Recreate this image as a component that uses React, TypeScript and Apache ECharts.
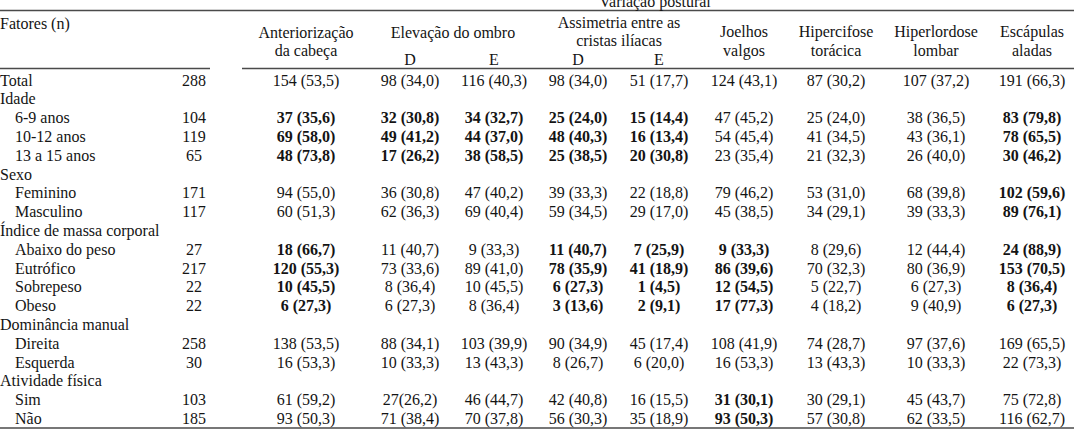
import React, { useEffect, useRef } from "react";
import * as echarts from "echarts";

// ---------- data ----------
const rowLabels = [
  "Total", "Idade", "6-9 anos", "10-12 anos", "13 a 15 anos",
  "Sexo", "Feminino", "Masculino",
  "Índice de massa corporal", "Abaixo do peso", "Eutrófico", "Sobrepeso", "Obeso",
  "Dominância manual", "Direita", "Esquerda",
  "Atividade física", "Sim", "Não",
];
const rowIndented = [
  false, false, true, true, true,
  false, true, true,
  false, true, true, true, true,
  false, true, true,
  false, true, true,
];
const nValues = ["288", null, "104", "119", "65", null, "171", "117", null, "27", "217", "22", "22", null, "258", "30", null, "103", "185"];
const anteriorizacao = ["154 (53,5)", null, "37 (35,6)", "69 (58,0)", "48 (73,8)", null, "94 (55,0)", "60 (51,3)", null, "18 (66,7)", "120 (55,3)", "10 (45,5)", "6 (27,3)", null, "138 (53,5)", "16 (53,3)", null, "61 (59,2)", "93 (50,3)"];
const elevacaoD = ["98 (34,0)", null, "32 (30,8)", "49 (41,2)", "17 (26,2)", null, "36 (30,8)", "62 (36,3)", null, "11 (40,7)", "73 (33,6)", "8 (36,4)", "6 (27,3)", null, "88 (34,1)", "10 (33,3)", null, "27(26,2)", "71 (38,4)"];
const elevacaoE = ["116 (40,3)", null, "34 (32,7)", "44 (37,0)", "38 (58,5)", null, "47 (40,2)", "69 (40,4)", null, "9 (33,3)", "89 (41,0)", "10 (45,5)", "8 (36,4)", null, "103 (39,9)", "13 (43,3)", null, "46 (44,7)", "70 (37,8)"];
const assimetriaD = ["98 (34,0)", null, "25 (24,0)", "48 (40,3)", "25 (38,5)", null, "39 (33,3)", "59 (34,5)", null, "11 (40,7)", "78 (35,9)", "6 (27,3)", "3 (13,6)", null, "90 (34,9)", "8 (26,7)", null, "42 (40,8)", "56 (30,3)"];
const assimetriaE = ["51 (17,7)", null, "15 (14,4)", "16 (13,4)", "20 (30,8)", null, "22 (18,8)", "29 (17,0)", null, "7 (25,9)", "41 (18,9)", "1 (4,5)", "2 (9,1)", null, "45 (17,4)", "6 (20,0)", null, "16 (15,5)", "35 (18,9)"];
const joelhosValgos = ["124 (43,1)", null, "47 (45,2)", "54 (45,4)", "23 (35,4)", null, "79 (46,2)", "45 (38,5)", null, "9 (33,3)", "86 (39,6)", "12 (54,5)", "17 (77,3)", null, "108 (41,9)", "16 (53,3)", null, "31 (30,1)", "93 (50,3)"];
const hipercifose = ["87 (30,2)", null, "25 (24,0)", "41 (34,5)", "21 (32,3)", null, "53 (31,0)", "34 (29,1)", null, "8 (29,6)", "70 (32,3)", "5 (22,7)", "4 (18,2)", null, "74 (28,7)", "13 (43,3)", null, "30 (29,1)", "57 (30,8)"];
const hiperlordose = ["107 (37,2)", null, "38 (36,5)", "43 (36,1)", "26 (40,0)", null, "68 (39,8)", "39 (33,3)", null, "12 (44,4)", "80 (36,9)", "6 (27,3)", "9 (40,9)", null, "97 (37,6)", "10 (33,3)", null, "45 (43,7)", "62 (33,5)"];
const escapulas = ["191 (66,3)", null, "83 (79,8)", "78 (65,5)", "30 (46,2)", null, "102 (59,6)", "89 (76,1)", null, "24 (88,9)", "153 (70,5)", "8 (36,4)", "6 (27,3)", null, "169 (65,5)", "22 (73,3)", null, "75 (72,8)", "116 (62,7)"];

// rows printed in bold (significant), per column
const boldAnteriorizacao = [2, 3, 4, 9, 10, 11, 12];
const boldElevacaoD = [2, 3, 4];
const boldElevacaoE = [2, 3, 4];
const boldAssimetriaD = [2, 3, 4, 9, 10, 11, 12];
const boldAssimetriaE = [2, 3, 4, 9, 10, 11, 12];
const boldJoelhos = [9, 10, 11, 12, 17, 18];
const boldHipercifose: number[] = [];
const boldHiperlordose: number[] = [];
const boldEscapulas = [2, 3, 4, 6, 7, 9, 10, 11, 12];

// ---------- layout ----------
const W = 1074;
const H = 433;
const COL_X = [0, 194, 306, 410, 494, 578, 659, 744, 836, 936, 1032];
const INDENT = 15;
const FONT = "'Liberation Serif', 'Times New Roman', serif";
const FS = 16;
const TXT = "#141414";
const LINE = "#4a4a4a";

const valueColumns = [
  { values: nValues, bold: [] as number[] },
  { values: anteriorizacao, bold: boldAnteriorizacao },
  { values: elevacaoD, bold: boldElevacaoD },
  { values: elevacaoE, bold: boldElevacaoE },
  { values: assimetriaD, bold: boldAssimetriaD },
  { values: assimetriaE, bold: boldAssimetriaE },
  { values: joelhosValgos, bold: boldJoelhos },
  { values: hipercifose, bold: boldHipercifose },
  { values: hiperlordose, bold: boldHiperlordose },
  { values: escapulas, bold: boldEscapulas },
];

type Cell = { col: number; row: number; text: string; bold: boolean };

function buildCells(): Cell[] {
  const cells: Cell[] = [];
  rowLabels.forEach((t, r) => cells.push({ col: 0, row: r, text: t, bold: false }));
  valueColumns.forEach((c, ci) => {
    c.values.forEach((v, r) => {
      if (v != null) cells.push({ col: ci + 1, row: r, text: v, bold: c.bold.indexOf(r) >= 0 });
    });
  });
  return cells;
}

function headerText(text: string, x: number, y: number, align = "center") {
  return {
    type: "text",
    x,
    y,
    silent: true,
    style: {
      text,
      fill: TXT,
      fontFamily: FONT,
      fontSize: FS,
      align,
      verticalAlign: "middle",
    },
  };
}

function hLine(x1: number, x2: number, y: number) {
  return {
    type: "line",
    silent: true,
    shape: { x1, y1: y, x2, y2: y },
    style: { stroke: LINE, lineWidth: 1.6 },
  };
}

export default function App() {
  const ref = useRef<HTMLDivElement>(null);

  useEffect(() => {
    document.body.style.margin = "0";
    if (!ref.current) return;
    const chart = echarts.init(ref.current, undefined, { renderer: "svg" });
    const cells = buildCells();

    const option: any = {
      animation: false,
      backgroundColor: "#ffffff",
      grid: { left: 0, right: 0, top: 70.6, bottom: 5.2, containLabel: false },
      xAxis: { type: "value", min: 0, max: W, show: false },
      yAxis: {
        type: "category",
        data: rowLabels,
        inverse: true,
        show: false,
        boundaryGap: true,
      },
      series: [
        {
          type: "custom",
          coordinateSystem: "cartesian2d",
          clip: false,
          data: cells.map((c) => [COL_X[c.col], c.row]),
          renderItem: (params: any, api: any) => {
            const c = cells[params.dataIndex];
            const p = api.coord([api.value(0), api.value(1)]);
            let x = p[0];
            let align = "center";
            if (c.col === 0) {
              align = "left";
              x = p[0] + (rowIndented[c.row] ? INDENT : 0);
            }
            return {
              type: "text",
              x,
              y: p[1],
              style: {
                text: c.text,
                fill: TXT,
                fontFamily: FONT,
                fontSize: FS,
                fontWeight: c.bold ? "bold" : "normal",
                align,
                verticalAlign: "middle",
              },
            };
          },
        },
      ],
      graphic: [
        hLine(0, W, 10.5),
        hLine(0, 210, 68.5),
        hLine(242, W, 68.5),
        hLine(0, W, 428),
        headerText("Variação postural", 655, 1.5),
        headerText("Fatores (n)", 0, 23, "left"),
        headerText("Anteriorização", 306, 32),
        headerText("da cabeça", 306, 50),
        headerText("Elevação do ombro", 453, 32),
        headerText("D", 410, 59),
        headerText("E", 494, 59),
        headerText("Assimetria entre as", 619, 22),
        headerText("cristas ilíacas", 619, 40),
        headerText("D", 578, 59),
        headerText("E", 659, 59),
        headerText("Joelhos", 744, 31),
        headerText("valgos", 744, 50),
        headerText("Hipercifose", 836, 31),
        headerText("torácica", 836, 50),
        headerText("Hiperlordose", 936, 31),
        headerText("lombar", 936, 50),
        headerText("Escápulas", 1032, 31),
        headerText("aladas", 1032, 50),
      ],
    };
    chart.setOption(option);
    return () => chart.dispose();
  }, []);

  return (
    <div
      ref={ref}
      style={{ position: "absolute", left: 0, top: 0, width: W, height: H, background: "#fff" }}
    />
  );
}
